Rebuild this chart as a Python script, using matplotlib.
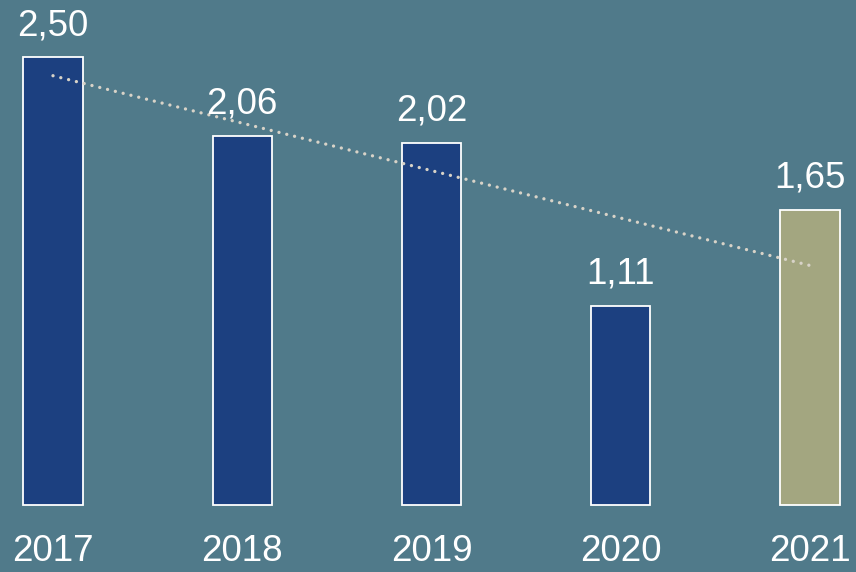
import numpy as np
import matplotlib.pyplot as plt

plt.rcParams['font.family'] = ['Liberation Sans', 'DejaVu Sans']

# Values per year
years = ['2017', '2018', '2019', '2020', '2021']
values = [2.50, 2.06, 2.02, 1.11, 1.65]
value_labels = ['2,50', '2,06', '2,02', '1,11', '1,65']

bg = '#507a8a'
bar_colors = ['#1c4080'] * 4 + ['#a3a680']

fig = plt.figure(figsize=(8.56, 5.72), dpi=100, facecolor=bg)
ax = fig.add_axes([0, 0, 1, 1])
ax.set_facecolor(bg)

x = np.arange(len(years))
ax.bar(x, values, width=0.312, color=bar_colors, edgecolor='white', linewidth=1.3, zorder=2)

# linear trend over the series
slope, intercept = np.polyfit(x, values, 1)
ax.plot(x[[0, -1]], slope * x[[0, -1]] + intercept, color='#d8d3c8', linewidth=2.4,
        linestyle=(0, (0.01, 2.4)), dash_capstyle='round', zorder=3)

for xi, v, lab in zip(x, values, value_labels):
    ax.annotate(lab, (xi, v), xytext=(0, 23), textcoords='offset points',
                ha='center', va='center', fontsize=26.5, color='white', zorder=4)

for xi, yr in zip(x, years):
    ax.text(xi, -0.257, yr, ha='center', va='center', fontsize=26.5, color='white')

ax.set_xlim(-0.28, 4.243)
ax.set_ylim(-0.374, 2.821)
ax.axis('off')

fig.savefig('out.png', dpi=100, facecolor=bg)
